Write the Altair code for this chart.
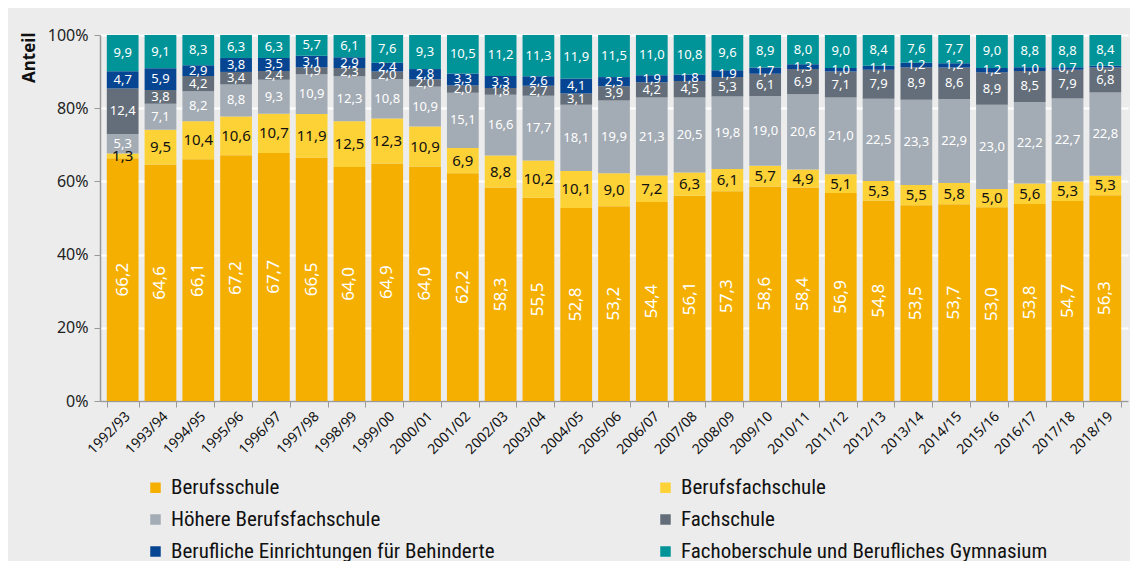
import altair as alt
import pandas as pd

years = ["1992/93","1993/94","1994/95","1995/96","1996/97","1997/98","1998/99","1999/00",
         "2000/01","2001/02","2002/03","2003/04","2004/05","2005/06","2006/07","2007/08",
         "2008/09","2009/10","2010/11","2011/12","2012/13","2013/14","2014/15","2015/16",
         "2016/17","2017/18","2018/19"]

series = ["Berufsschule", "Berufsfachschule", "Höhere Berufsfachschule", "Fachschule",
          "Berufliche Einrichtungen für Behinderte", "Fachoberschule und Berufliches Gymnasium"]
colors = ["#F5AF00", "#FDD236", "#A3ABB4", "#636E7A", "#064591", "#009499"]

berufsschule = [66.2,64.6,66.1,67.2,67.7,66.5,64.0,64.9,64.0,62.2,58.3,55.5,52.8,53.2,54.4,56.1,
                57.3,58.6,58.4,56.9,54.8,53.5,53.7,53.0,53.8,54.7,56.3]
berufsfachschule = [1.3,9.5,10.4,10.6,10.7,11.9,12.5,12.3,10.9,6.9,8.8,10.2,10.1,9.0,7.2,6.3,
                    6.1,5.7,4.9,5.1,5.3,5.5,5.8,5.0,5.6,5.3,5.3]
hoehere_bfs = [5.3,7.1,8.2,8.8,9.3,10.9,12.3,10.8,10.9,15.1,16.6,17.7,18.1,19.9,21.3,20.5,
               19.8,19.0,20.6,21.0,22.5,23.3,22.9,23.0,22.2,22.7,22.8]
fachschule = [12.4,3.8,4.2,3.4,2.4,1.9,2.3,2.0,2.0,2.0,1.8,2.7,3.1,3.9,4.2,4.5,5.3,6.1,6.9,
              7.1,7.9,8.9,8.6,8.9,8.5,7.9,6.8]
behinderte = [4.7,5.9,2.9,3.8,3.5,3.1,2.9,2.4,2.8,3.3,3.3,2.6,4.1,2.5,1.9,1.8,1.9,1.7,1.3,
              1.0,1.1,1.2,1.2,1.2,1.0,0.7,0.5]
fos_gym = [9.9,9.1,8.3,6.3,6.3,5.7,6.1,7.6,9.3,10.5,11.2,11.3,11.9,11.5,11.0,10.8,9.6,8.9,
           8.0,9.0,8.4,7.6,7.7,9.0,8.8,8.8,8.4]

values = [berufsschule, berufsfachschule, hoehere_bfs, fachschule, behinderte, fos_gym]

rows = []
for si, (s, vals) in enumerate(zip(series, values)):
    for y, v in zip(years, vals):
        rows.append({"year": y, "series": s, "idx": si, "value": v})
df = pd.DataFrame(rows)

FONT = "Noto Sans, DejaVu Sans, sans-serif"
LEGEND_FONT = "Roboto Condensed, Liberation Sans Narrow, Noto Sans, sans-serif"

base = alt.Chart(df).transform_stack(
    stack="value", groupby=["year"], as_=["y0", "y1"],
    sort=[alt.SortField("idx", order="ascending")], offset="normalize"
).transform_calculate(
    mid="(datum.y0 + datum.y1) / 2",
    label="replace(format(datum.value, '.1f'), '.', ',')"
)

x_enc = alt.X("year:N", sort=years, title=None,
              scale=alt.Scale(paddingInner=0.16, paddingOuter=0.18),
              axis=alt.Axis(labelAngle=-45, labelFontSize=14, labelColor="#111",
                            labelFont=FONT, tickBand="extent", tickColor="#999",
                            domainColor="#999", domainWidth=1.5, tickSize=6,
                            labelPadding=2, labelOverlap=False))

bars = base.mark_bar().encode(
    x=x_enc,
    y=alt.Y("y0:Q", title="Anteil", scale=alt.Scale(domain=[0, 1]),
            axis=alt.Axis(format=".0%", values=[i / 10 for i in range(11)],
                          labelFontSize=16, labelColor="#222", labelFont=FONT,
                          labelOverlap=False, labelPadding=6,
                          grid=True, gridColor="#FFFFFF", gridWidth=2,
                          domainColor="#999", domainWidth=1.5, tickColor="#999",
                          tickSize=6, titleFontSize=17, titleFontWeight="bold",
                          titleFont=FONT, titleColor="#111", titleAnchor="end",
                          titleX=-62, titleY=-3, titleAlign="right")),
    y2="y1:Q",
    color=alt.Color("series:N", sort=series,
                    scale=alt.Scale(domain=series, range=colors),
                    legend=alt.Legend(title=None, orient="none", legendX=45, legendY=442,
                                      columns=2, columnPadding=160, rowPadding=10,
                                      symbolType="square", symbolSize=110,
                                      symbolStrokeWidth=0, labelFontSize=21,
                                      labelFont=LEGEND_FONT, labelColor="#111",
                                      labelOffset=5, labelLimit=500,
                                      direction="horizontal")),
    order=alt.Order("idx:Q", sort="ascending"),
)

text_main = base.transform_filter(alt.datum.idx == 0).mark_text(
    angle=270, fontSize=17, font=FONT, color="white"
).encode(x=alt.X("year:N", sort=years), y="mid:Q", text="label:N")

text_bfs = base.transform_filter(alt.datum.idx == 1).mark_text(
    fontSize=15, font=FONT, color="#111"
).encode(x=alt.X("year:N", sort=years), y="mid:Q", text="label:N")

text_other = base.transform_filter(alt.datum.idx > 1).mark_text(
    fontSize=13, font=FONT, color="white"
).encode(x=alt.X("year:N", sort=years), y="mid:Q", text="label:N")

chart = alt.layer(bars, text_main, text_bfs, text_other).properties(
    width=1028, height=366,
    background="#ECECEC",
    padding={"left": 92, "top": 27, "right": 2, "bottom": 160},
    autosize=alt.AutoSizeParams(type="none"),
).configure_view(stroke=None, fill="#ECECEC")

chart.save("out.html", embed_options={"renderer": "svg", "actions": False})
